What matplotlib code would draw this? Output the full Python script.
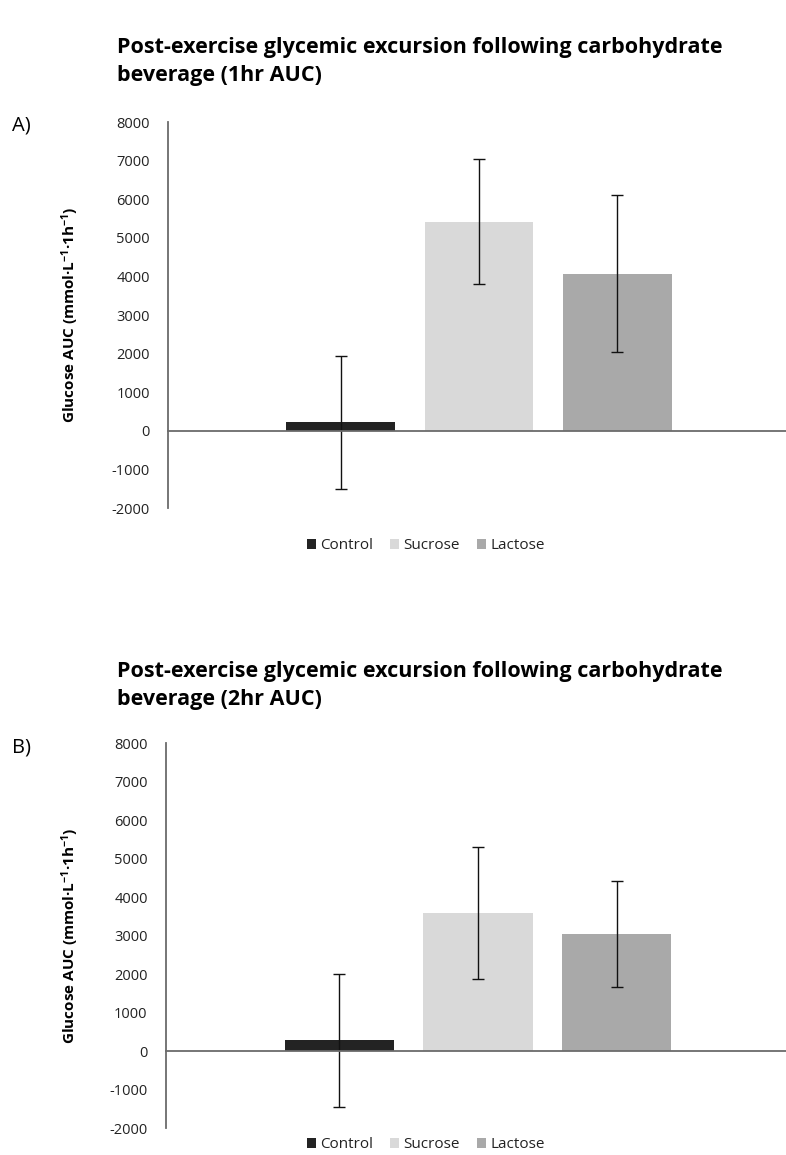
import matplotlib
matplotlib.use("Agg")
import matplotlib.pyplot as plt
from matplotlib.patches import Patch

plt.rcParams['font.family'] = ['Open Sans', 'DejaVu Sans']
plt.rcParams['mathtext.fontset'] = 'custom'
plt.rcParams['mathtext.rm'] = 'Open Sans:bold'
plt.rcParams['mathtext.it'] = 'Open Sans:bold'
plt.rcParams['mathtext.bf'] = 'Open Sans:bold'

categories = ["Control", "Sucrose", "Lactose"]
colors = ["#232323", "#d9d9d9", "#a9a9a9"]

auc_1h = [217, 5420, 4075]
err_1h = [1720, 1625, 2035]

auc_2h = [276, 3590, 3045]
err_2h = [1725, 1712, 1380]

yticks = list(range(-2000, 8001, 1000))

titles = [["Post-exercise glycemic excursion following carbohydrate", "beverage (1hr AUC)"],
          ["Post-exercise glycemic excursion following carbohydrate", "beverage (2hr AUC)"]]
panel_labels = ["A)", "B)"]
ylabel = r"Glucose AUC (mmol·L$^{-1}$·1h$^{-1}$)"

W, H = 786, 1155
fig = plt.figure(figsize=(W / 100, H / 100), dpi=100)

# axes rects in pixels: left, top, right, bottom
rects = [(168, 122, 786, 508), (165.7, 743.3, 786, 1128)]
title_y = [48, 672]
label_y = [126, 748]
legend_y = [546, 1145]
datasets = [(auc_1h, err_1h), (auc_2h, err_2h)]

axis_grey = "#6b6b6b"
text_col = "#222222"

for i in range(2):
    l, t, r, b = rects[i]
    ax = fig.add_axes([l / W, 1 - b / H, (r - l) / W, (b - t) / H])
    vals, errs = datasets[i]
    x = list(range(len(categories)))
    ax.bar(x, vals, width=0.787, color=colors, zorder=2)
    ax.errorbar(x, vals, yerr=errs, fmt='none', ecolor='#111111', elinewidth=1.0,
                capsize=4, capthick=1.0, zorder=3)
    ax.set_xlim(-1.25, 3.22)
    ax.set_ylim(-2000, 8000)
    ax.set_yticks(yticks)
    ax.set_yticklabels([str(v) for v in yticks])
    ax.tick_params(axis='y', length=0, pad=13, labelsize=10.5, labelcolor=text_col)
    ax.set_xticks([])
    for s in ['top', 'right']:
        ax.spines[s].set_visible(False)
    ax.spines['bottom'].set_position(('data', 0))
    ax.spines['bottom'].set_color(axis_grey)
    ax.spines['bottom'].set_linewidth(1.3)
    ax.spines['bottom'].set_zorder(4)
    ax.spines['left'].set_color(axis_grey)
    ax.spines['left'].set_linewidth(1.3)
    ax.set_ylabel(ylabel, fontsize=11, fontweight='bold', color='black')
    ax.yaxis.set_label_coords((81 - l) / (r - l), 0.5)

    for k, line in enumerate(titles[i]):
        fig.text(117 / W, 1 - (title_y[i] + 28 * k) / H, line, fontsize=15.5, fontweight='bold',
                 ha='left', va='center', color='black')
    fig.text(12 / W, 1 - label_y[i] / H, panel_labels[i], fontsize=14.5,
             ha='left', va='center', color='black')

    handles = [Patch(facecolor=c, edgecolor='none', label=n) for c, n in zip(colors, categories)]
    fig.legend(handles=handles, loc='center', bbox_to_anchor=(426 / W, 1 - legend_y[i] / H),
               ncol=3, frameon=False, fontsize=11, handlelength=0.6, handleheight=0.6,
               handletextpad=0.28, columnspacing=1.1, labelcolor=text_col,
               borderpad=0, borderaxespad=0)

fig.savefig("out.png", dpi=100)
